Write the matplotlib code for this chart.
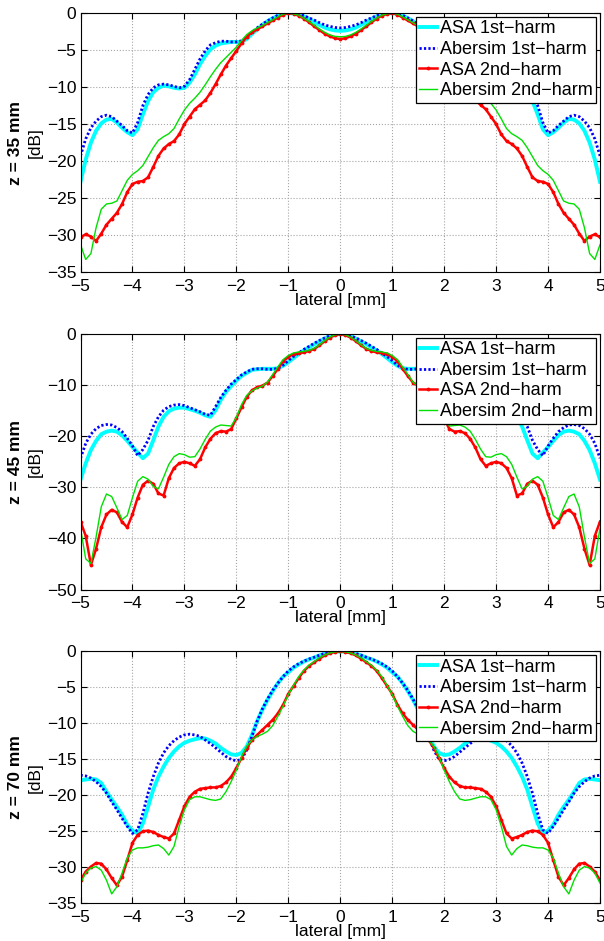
import matplotlib
matplotlib.use("Agg")
import matplotlib.pyplot as plt
import numpy as np

plt.rcParams['font.family'] = ['Liberation Sans', 'DejaVu Sans']

# lateral sample positions [mm]
lateral = np.linspace(-5, 5, 101)

labels = ['ASA 1st\u2212harm', 'Abersim 1st\u2212harm',
          'ASA 2nd\u2212harm', 'Abersim 2nd\u2212harm']
depths = ['z = 35 mm', 'z = 45 mm', 'z = 70 mm']
ymins = [-35, -50, -35]
ysteps = [5, 10, 5]

# ---- z = 35 mm ----
asa1_35 = [
    -22.8, -19.8, -17.5, -15.9, -14.9, -14.4, -14.3, -14.8, -15.5, -16.1,
    -16.5, -15.7, -13.7, -11.9, -10.7, -10.1, -9.8, -9.9, -10.1, -10.2,
    -10.1, -9.4, -8.3, -6.9, -5.8, -4.9, -4.4, -4.1, -4.0, -3.9,
    -3.9, -3.9, -3.5, -2.8, -2.2, -1.6, -1.1, -0.7, -0.35, -0.1,
    0.0, -0.05, -0.2, -0.45, -0.8, -1.2, -1.6, -1.95, -2.2, -2.35,
    -2.4,
    -2.35, -2.2, -1.95, -1.6, -1.2, -0.8, -0.45, -0.2, -0.05, 0.0,
    -0.1, -0.35, -0.7, -1.1, -1.6, -2.2, -2.8, -3.5, -3.9, -3.9,
    -3.9, -4.0, -4.1, -4.4, -4.9, -5.8, -6.9, -8.3, -9.4, -10.1,
    -10.2, -10.1, -9.9, -9.8, -10.1, -10.7, -11.9, -13.7, -15.7, -16.5,
    -16.1, -15.5, -14.8, -14.3, -14.4, -14.9, -15.9, -17.5, -19.8, -22.8,
]
aber1_35 = [
    -19.3, -17.0, -15.5, -14.6, -14.0, -13.8, -14.0, -14.6, -15.2, -15.9,
    -16.2, -14.8, -12.5, -11.0, -10.1, -9.7, -9.6, -9.7, -9.9, -10.1,
    -9.9, -9.0, -7.6, -6.2, -5.1, -4.3, -4.0, -3.8, -3.8, -3.9,
    -3.9, -3.75, -3.3, -2.6, -2.0, -1.5, -1.05, -0.65, -0.3, -0.1,
    0.0, -0.05, -0.15, -0.35, -0.65, -0.95, -1.3, -1.6, -1.8, -1.95,
    -2.0,
    -1.95, -1.8, -1.6, -1.3, -0.95, -0.65, -0.35, -0.15, -0.05, 0.0,
    -0.1, -0.3, -0.65, -1.05, -1.5, -2.0, -2.6, -3.3, -3.75, -3.9,
    -3.9, -3.8, -3.8, -4.0, -4.3, -5.1, -6.2, -7.6, -9.0, -9.9,
    -10.1, -9.9, -9.7, -9.6, -9.7, -10.1, -11.0, -12.5, -14.8, -16.2,
    -15.9, -15.2, -14.6, -14.0, -13.8, -14.0, -14.6, -15.5, -17.0, -19.3,
]
asa2_35 = [
    -30.3, -29.9, -30.2, -30.8, -29.8, -28.6, -27.8, -27.0, -25.8, -24.2,
    -23.1, -22.8, -22.7, -22.2, -20.8, -19.3, -18.3, -17.7, -17.3, -16.4,
    -15.0, -14.0, -13.0, -12.4, -11.8, -10.8, -9.6, -8.3, -7.1, -6.1,
    -5.1, -4.1, -3.2, -2.6, -2.2, -1.8, -1.4, -1.0, -0.6, -0.2,
    0.0, -0.1, -0.35, -0.75, -1.25, -1.8, -2.3, -2.8, -3.15, -3.4,
    -3.5,
    -3.4, -3.15, -2.8, -2.3, -1.8, -1.25, -0.75, -0.35, -0.1, 0.0,
    -0.2, -0.6, -1.0, -1.4, -1.8, -2.2, -2.6, -3.2, -4.1, -5.1,
    -6.1, -7.1, -8.3, -9.6, -10.8, -11.8, -12.4, -13.0, -14.0, -15.0,
    -16.4, -17.3, -17.7, -18.3, -19.3, -20.8, -22.2, -22.7, -22.8, -23.1,
    -24.2, -25.8, -27.0, -27.8, -28.6, -29.8, -30.8, -30.2, -29.9, -30.3,
]
aber2_35 = [
    -31.3, -33.3, -32.5, -29.0, -26.5, -25.8, -25.7, -25.4, -24.0, -22.6,
    -21.8, -21.3, -20.6, -19.4, -18.2, -17.2, -16.7, -16.3, -15.6, -14.3,
    -13.1, -12.2, -11.5, -10.7, -9.7, -8.6, -7.6, -6.7, -6.0, -5.3,
    -4.6, -3.7, -2.9, -2.4, -2.0, -1.7, -1.3, -0.9, -0.5, -0.15,
    0.0, -0.1, -0.3, -0.7, -1.15, -1.65, -2.15, -2.6, -2.95, -3.15,
    -3.2,
    -3.15, -2.95, -2.6, -2.15, -1.65, -1.15, -0.7, -0.3, -0.1, 0.0,
    -0.15, -0.5, -0.9, -1.3, -1.7, -2.0, -2.4, -2.9, -3.7, -4.6,
    -5.3, -6.0, -6.7, -7.6, -8.6, -9.7, -10.7, -11.5, -12.2, -13.1,
    -14.3, -15.6, -16.3, -16.7, -17.2, -18.2, -19.4, -20.6, -21.3, -21.8,
    -22.6, -24.0, -25.4, -25.7, -25.8, -26.5, -29.0, -32.5, -33.3, -31.3,
]

# ---- z = 45 mm ----
asa1_45 = [
    -28.5, -25.3, -22.7, -20.9, -19.6, -19.1, -18.9, -19.1, -19.8, -20.9,
    -22.1, -23.2, -24.3, -23.4, -20.8, -18.1, -16.2, -15.1, -14.6, -14.4,
    -14.4, -14.7, -15.0, -15.4, -15.9, -16.2, -14.9, -12.9, -11.3, -10.2,
    -9.1, -8.2, -7.6, -7.0, -6.9, -6.8, -6.8, -6.8, -6.7, -6.2,
    -5.5, -4.7, -3.9, -3.2, -2.6, -2.0, -1.45, -0.9, -0.4, -0.1,
    0.0,
    -0.1, -0.4, -0.9, -1.45, -2.0, -2.6, -3.2, -3.9, -4.7, -5.5,
    -6.2, -6.7, -6.8, -6.8, -6.8, -6.9, -7.0, -7.6, -8.2, -9.1,
    -10.2, -11.3, -12.9, -14.9, -16.2, -15.9, -15.4, -15.0, -14.7, -14.4,
    -14.4, -14.6, -15.1, -16.2, -18.1, -20.8, -23.4, -24.3, -23.2, -22.1,
    -20.9, -19.8, -19.1, -18.9, -19.1, -19.6, -20.9, -22.7, -25.3, -28.5,
]
aber1_45 = [
    -24.3, -21.4, -19.6, -18.5, -17.9, -17.7, -17.8, -18.3, -19.1, -20.4,
    -21.9, -23.8, -22.6, -20.8, -18.1, -16.2, -14.9, -14.2, -13.9, -13.8,
    -14.0, -14.4, -14.8, -15.2, -15.7, -15.9, -14.2, -12.4, -11.0, -9.8,
    -8.9, -8.0, -7.4, -6.9, -6.8, -6.8, -6.9, -6.9, -6.7, -6.1,
    -5.2, -4.4, -3.7, -3.0, -2.4, -1.8, -1.25, -0.75, -0.35, -0.08,
    0.0,
    -0.08, -0.35, -0.75, -1.25, -1.8, -2.4, -3.0, -3.7, -4.4, -5.2,
    -6.1, -6.7, -6.9, -6.9, -6.8, -6.8, -6.9, -7.4, -8.0, -8.9,
    -9.8, -11.0, -12.4, -14.2, -15.9, -15.7, -15.2, -14.8, -14.4, -14.0,
    -13.8, -13.9, -14.2, -14.9, -16.2, -18.1, -20.8, -22.6, -23.8, -21.9,
    -20.4, -19.1, -18.3, -17.8, -17.7, -17.9, -18.5, -19.6, -21.4, -24.3,
]
asa2_45 = [
    -36.7, -39.5, -45.2, -42.0, -37.8, -35.3, -34.4, -34.9, -36.8, -37.8,
    -35.3, -32.0, -29.5, -28.7, -29.3, -31.2, -31.6, -28.2, -26.2, -25.3,
    -25.0, -25.3, -25.8, -24.5, -22.2, -20.5, -19.4, -19.0, -19.1, -18.6,
    -16.5, -14.3, -12.3, -11.0, -10.4, -10.1, -9.5, -8.2, -6.8, -5.3,
    -4.5, -3.9, -3.7, -3.6, -3.3, -2.9, -2.2, -1.4, -0.7, -0.2,
    0.0,
    -0.2, -0.7, -1.4, -2.2, -2.9, -3.3, -3.6, -3.7, -3.9, -4.5,
    -5.3, -6.8, -8.2, -9.5, -10.1, -10.4, -11.0, -12.3, -14.3, -16.5,
    -18.6, -19.1, -19.0, -19.4, -20.5, -22.2, -24.5, -25.8, -25.3, -25.0,
    -25.3, -26.2, -28.2, -31.6, -31.2, -29.3, -28.7, -29.5, -32.0, -35.3,
    -37.8, -36.8, -34.9, -34.4, -35.3, -37.8, -42.0, -45.2, -39.5, -36.7,
]
aber2_45 = [
    -38.0, -44.0, -44.9, -39.7, -33.8, -31.3, -31.8, -34.0, -36.3, -35.5,
    -32.0, -28.8, -27.9, -28.4, -29.8, -30.3, -28.0, -25.5, -24.0, -23.4,
    -23.6, -24.1, -24.0, -22.5, -20.6, -19.0, -18.2, -17.8, -17.9, -18.0,
    -16.3, -13.8, -12.0, -11.1, -10.6, -10.2, -9.4, -7.9, -6.4, -5.0,
    -4.2, -3.7, -3.5, -3.4, -3.2, -2.8, -2.1, -1.3, -0.6, -0.15,
    0.0,
    -0.15, -0.6, -1.3, -2.1, -2.8, -3.2, -3.4, -3.5, -3.7, -4.2,
    -5.0, -6.4, -7.9, -9.4, -10.2, -10.6, -11.1, -12.0, -13.8, -16.3,
    -18.0, -17.9, -17.8, -18.2, -19.0, -20.6, -22.5, -24.0, -24.1, -23.6,
    -23.4, -24.0, -25.5, -28.0, -30.3, -29.8, -28.4, -27.9, -28.8, -32.0,
    -35.5, -36.3, -34.0, -31.8, -31.3, -33.8, -39.7, -44.9, -44.0, -38.0,
]

# ---- z = 70 mm ----
asa1_70 = [
    -17.9, -17.8, -17.7, -17.8, -18.3, -19.5, -20.6, -21.6, -22.7, -24.1,
    -24.9, -25.3, -23.9, -21.6, -19.2, -17.4, -16.0, -14.8, -13.9, -13.2,
    -12.7, -12.4, -12.2, -12.05, -12.1, -12.4, -12.8, -13.4, -13.9, -14.3,
    -14.4, -14.1, -13.2, -11.6, -9.7, -8.1, -6.7, -5.5, -4.4, -3.5,
    -2.9, -2.25, -1.8, -1.4, -1.1, -0.85, -0.55, -0.3, -0.13, -0.03,
    0.0,
    -0.03, -0.13, -0.3, -0.55, -0.85, -1.1, -1.4, -1.8, -2.25, -2.9,
    -3.5, -4.4, -5.5, -6.7, -8.1, -9.7, -11.6, -13.2, -14.1, -14.4,
    -14.3, -13.9, -13.4, -12.8, -12.4, -12.1, -12.05, -12.2, -12.4, -12.7,
    -13.2, -13.9, -14.8, -16.0, -17.4, -19.2, -21.6, -23.9, -25.3, -24.9,
    -24.1, -22.7, -21.6, -20.6, -19.5, -18.3, -17.8, -17.7, -17.8, -17.9,
]
aber1_70 = [
    -17.2, -17.3, -17.6, -18.1, -18.8, -19.7, -20.9, -22.0, -23.2, -24.3,
    -25.3, -24.8, -22.5, -19.7, -17.4, -15.5, -14.1, -13.1, -12.4, -11.9,
    -11.6, -11.5, -11.6, -11.8, -12.3, -12.8, -13.4, -14.0, -14.6, -15.0,
    -15.2, -15.0, -13.7, -11.8, -9.7, -8.0, -6.6, -5.4, -4.4, -3.5,
    -2.7, -2.15, -1.7, -1.35, -1.05, -0.8, -0.52, -0.28, -0.12, -0.03,
    0.0,
    -0.03, -0.12, -0.28, -0.52, -0.8, -1.05, -1.35, -1.7, -2.15, -2.7,
    -3.5, -4.4, -5.4, -6.6, -8.0, -9.7, -11.8, -13.7, -15.0, -15.2,
    -15.0, -14.6, -14.0, -13.4, -12.8, -12.3, -11.8, -11.6, -11.5, -11.6,
    -11.9, -12.4, -13.1, -14.1, -15.5, -17.4, -19.7, -22.5, -24.8, -25.3,
    -24.3, -23.2, -22.0, -20.9, -19.7, -18.8, -18.1, -17.6, -17.3, -17.2,
]
asa2_70 = [
    -31.8, -30.6, -29.9, -29.4, -29.5, -30.3, -31.5, -32.5, -31.3, -29.0,
    -26.6, -25.5, -25.0, -24.9, -25.1, -25.5, -25.8, -26.0, -25.3, -23.4,
    -21.5, -20.2, -19.5, -19.1, -19.0, -18.9, -18.9, -18.7, -18.2, -17.4,
    -16.2, -14.8, -13.4, -12.3, -11.6, -10.9, -10.2, -9.5, -8.6, -7.4,
    -5.9, -4.8, -3.7, -2.7, -2.0, -1.5, -1.0, -0.55, -0.25, -0.06,
    0.0,
    -0.06, -0.25, -0.55, -1.0, -1.5, -2.0, -2.7, -3.7, -4.8, -5.9,
    -7.4, -8.6, -9.5, -10.2, -10.9, -11.6, -12.3, -13.4, -14.8, -16.2,
    -17.4, -18.2, -18.7, -18.9, -18.9, -19.0, -19.1, -19.5, -20.2, -21.5,
    -23.4, -25.3, -26.0, -25.8, -25.5, -25.1, -24.9, -25.0, -25.5, -26.6,
    -29.0, -31.3, -32.5, -31.5, -30.3, -29.5, -29.4, -29.9, -30.6, -31.8,
]
aber2_70 = [
    -32.2, -30.8, -30.1, -29.9, -30.4, -31.8, -33.7, -32.7, -30.8, -28.7,
    -27.6, -27.3, -27.3, -27.2, -27.0, -26.9, -27.4, -28.3, -27.1, -24.3,
    -22.0, -20.6, -20.2, -20.2, -20.4, -20.6, -20.7, -20.5, -19.5, -18.1,
    -16.5, -14.6, -13.2, -12.3, -11.8, -11.5, -11.1, -10.3, -9.0, -7.6,
    -6.0, -4.7, -3.5, -2.6, -1.9, -1.4, -0.9, -0.5, -0.22, -0.05,
    0.0,
    -0.05, -0.22, -0.5, -0.9, -1.4, -1.9, -2.6, -3.5, -4.7, -6.0,
    -7.6, -9.0, -10.3, -11.1, -11.5, -11.8, -12.3, -13.2, -14.6, -16.5,
    -18.1, -19.5, -20.5, -20.7, -20.6, -20.4, -20.2, -20.2, -20.6, -22.0,
    -24.3, -27.1, -28.3, -27.4, -26.9, -27.0, -27.2, -27.3, -27.3, -27.6,
    -28.7, -30.8, -32.7, -33.7, -31.8, -30.4, -29.9, -30.1, -30.8, -32.2,
]

panels = [
    (asa1_35, aber1_35, asa2_35, aber2_35),
    (asa1_45, aber1_45, asa2_45, aber2_45),
    (asa1_70, aber1_70, asa2_70, aber2_70),
]

fig = plt.figure(figsize=(6.04, 9.41), dpi=100)
boxes = [
    [0.1333, 0.7109, 0.8601, 0.2752],
    [0.1333, 0.3735, 0.8601, 0.2715],
    [0.1333, 0.0401, 0.8601, 0.2676],
]

for box, (a1, b1, a2, b2), depth, ymin, ystep in zip(boxes, panels, depths, ymins, ysteps):
    ax = fig.add_axes(box)
    ax.plot(lateral, a1, color='#00ffff', lw=2.8, label=labels[0])
    ax.plot(lateral, b1, color='#0000ff', lw=2.0, ls=(0, (0.8, 0.8)),
            label=labels[1])
    ax.plot(lateral, a2, color='#ff0000', lw=1.8, marker='.', ms=3.5,
            label=labels[2])
    ax.plot(lateral, b2, color='#00e000', lw=1.0, label=labels[3])

    ax.set_xlim(-5, 5)
    ax.set_ylim(ymin, 0)
    ax.set_xticks(np.arange(-5, 6, 1))
    ax.set_yticks(np.arange(ymin, 1, ystep))
    ax.tick_params(direction='in', length=4, labelsize=12.5, top=True,
                   right=True)
    ax.tick_params(axis='x', pad=5)
    ax.tick_params(axis='y', pad=3)
    ax.grid(True, ls=':', color='0.65', lw=0.8)
    ax.set_xlabel('lateral [mm]', fontsize=12.5, labelpad=-1)

    y_mid = box[1] + box[3] / 2
    fig.text(0.058, y_mid, '[dB]', rotation=90, fontsize=12.5,
             ha='center', va='center')
    fig.text(0.026, y_mid, depth, rotation=90, fontsize=12.5,
             fontweight='bold', ha='center', va='center')

    leg = ax.legend(loc='upper right', fontsize=13, handlelength=1.0,
                    handletextpad=0.15, labelspacing=0.2, borderpad=0.2,
                    borderaxespad=0.2, fancybox=False, framealpha=1)
    leg.get_frame().set_edgecolor('black')
    leg.get_frame().set_linewidth(0.9)

fig.savefig('out.png', dpi=100)
